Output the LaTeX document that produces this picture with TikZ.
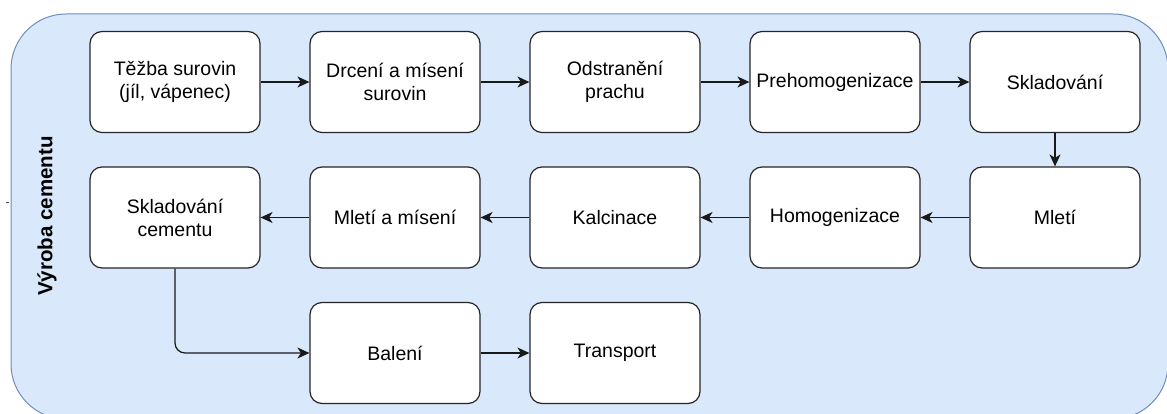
\documentclass[tikz,border=0pt]{standalone}
\usepackage{fontspec}
\setmainfont{Liberation Sans}
\usetikzlibrary{arrows.meta}
\definecolor{poolfill}{HTML}{DAE8FC}
\definecolor{poolline}{HTML}{6C8EBF}
\begin{document}
\begin{tikzpicture}[x=1pt,y=-1pt,
  stepbox/.style={draw=black!85,line width=1.2pt,fill=white,rounded corners=12pt,
    minimum width=170pt,minimum height=101pt,inner sep=0pt,align=center,
    font=\fontsize{19.5}{23}\selectfont},
  flow/.style={draw=black!90,line width=1.2pt,-{Stealth[length=12pt,width=11pt,inset=3.5pt]}}]
\useasboundingbox (0,0) rectangle (1167,414);
\begin{scope}
\clip (0,0) rectangle (1167,414);
\draw[poolline,fill=poolfill,line width=1pt,rounded corners=55pt] (11,14) rectangle (1168,419);
\end{scope}
\draw[black!70,line width=0.8pt] (6,202) -- (9,202);
\node[rotate=90,font=\bfseries\fontsize{20.5}{24}\selectfont] (pool) at (47,216) {Výroba cementu};
% first row
\node[stepbox] (tezba) at (175,82) {Těžba surovin\\(jíl, vápenec)};
\node[stepbox] (drceni) at (395,82) {Drcení a mísení\\surovin};
\node[stepbox] (prach) at (615,82) {Odstranění\\prachu};
\node[stepbox] (prehom) at (835,82) {Prehomogenizace};
\node[stepbox] (sklad) at (1055,82) {Skladování};
% second row
\node[stepbox] (mleti) at (1055,217.5) {Mletí};
\node[stepbox] (homog) at (835,217.5) {Homogenizace};
\node[stepbox] (kalc) at (615,217.5) {Kalcinace};
\node[stepbox] (misen) at (395,217.5) {Mletí a mísení};
\node[stepbox] (skladc) at (175,217.5) {Skladování\\cementu};
% third row
\node[stepbox] (baleni) at (395,353) {Balení};
\node[stepbox] (transp) at (615,353) {Transport};
% connectors
\draw[flow] (tezba) -- (drceni);
\draw[flow] (drceni) -- (prach);
\draw[flow] (prach) -- (prehom);
\draw[flow] (prehom) -- (sklad);
\draw[flow] (sklad) -- (mleti);
\draw[flow] (mleti) -- (homog);
\draw[flow] (homog) -- (kalc);
\draw[flow] (kalc) -- (misen);
\draw[flow] (misen) -- (skladc);
\draw[flow,rounded corners=10pt] (skladc.south) |- (baleni.west);
\draw[flow] (baleni) -- (transp);
\end{tikzpicture}
\end{document}
